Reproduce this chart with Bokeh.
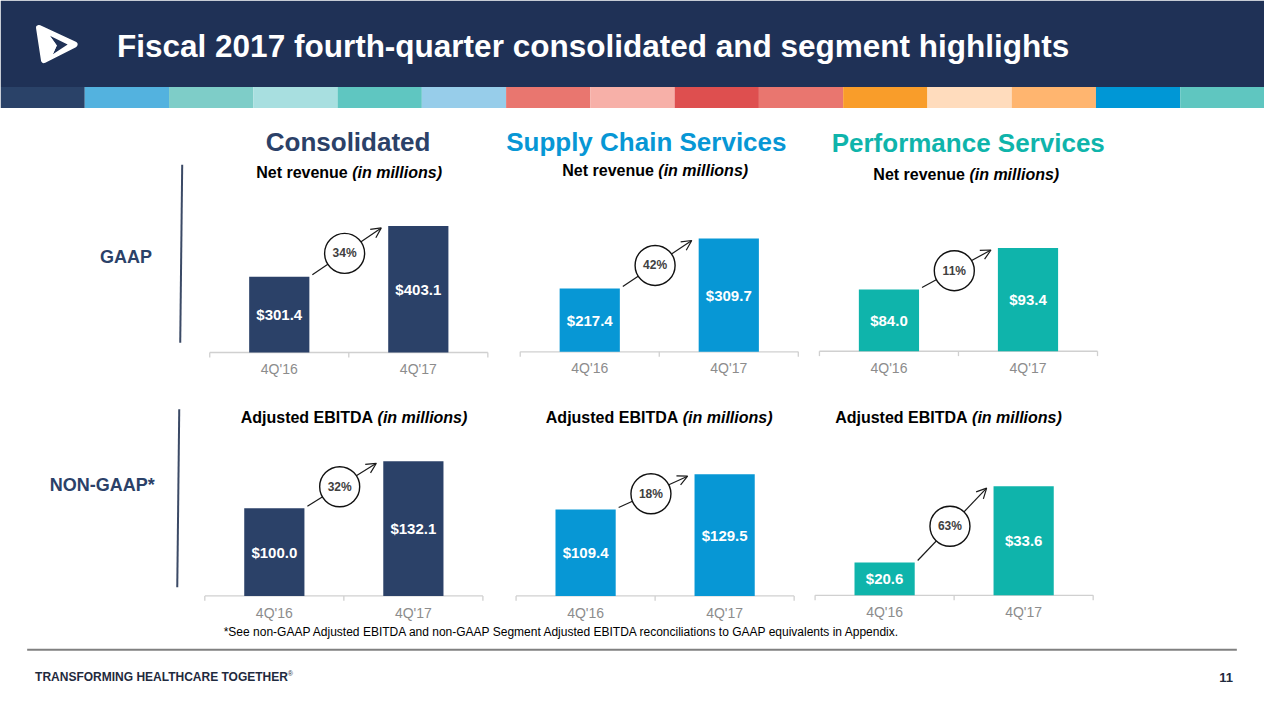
from bokeh.plotting import figure
from bokeh.models import Range1d, Arrow, OpenHead
from bokeh.embed import file_html
from bokeh.resources import INLINE
from bokeh.core.properties import value

# ---------------- data ----------------
quarters = ["4Q'16", "4Q'17"]
consolidated_revenue = [301.4, 403.1]
supply_chain_revenue = [217.4, 309.7]
performance_revenue = [84.0, 93.4]
consolidated_ebitda = [100.0, 132.1]
supply_chain_ebitda = [109.4, 129.5]
performance_ebitda = [20.6, 33.6]
revenue_growth = ["34%", "42%", "11%"]
ebitda_growth = ["32%", "18%", "63%"]
segment_titles = ["Consolidated", "Supply Chain Services", "Performance Services"]

# ---------------- styling ----------------
FONT = value("Liberation Sans")
NAVY = "#2b4168"
BLUE = "#0797d5"
TEAL = "#0fb4ab"
HEADER = "#1f3156"
stripe_colors = ["#2a4268", "#53b2df", "#7ecdc8", "#a8dfe0", "#5fc6c1", "#97cdea",
                 "#e9766f", "#f7b0a8", "#de4f4f", "#e9766f", "#f99d2a", "#ffdcbd",
                 "#ffb56f", "#0097d6", "#5fc6c0"]

SW, SH = 1280, 720          # slide coordinate space
W, H = 1264, 704            # figure size in pixels
p = figure(width=W, height=H, x_range=Range1d(0, SW), y_range=Range1d(SH, 0),
           output_backend="svg", toolbar_location=None, min_border=0,
           x_axis_location=None, y_axis_location=None, outline_line_color=None,
           background_fill_color="white", border_fill_color="white")
p.xgrid.visible = False
p.ygrid.visible = False

# Header band and stripe
p.quad(left=[0], right=[SW], top=[0], bottom=[88.5], fill_color=HEADER, line_color=None)
n = len(stripe_colors)
p.quad(left=[i * SW / n for i in range(n)], right=[(i + 1) * SW / n for i in range(n)],
       top=[88.5] * n, bottom=[110] * n, fill_color=stripe_colors, line_color=None)

# Logo (approximation of rounded triangle mark)
p.patch(x=[39, 75, 44], y=[28, 45, 61], fill_color="white", line_color="white",
        line_width=6, line_join="round")
p.patch(x=[50, 68, 53, 57], y=[36, 45, 55, 46], fill_color=HEADER, line_color=None)
p.patch(x=[44, 50, 57, 53, 47], y=[31, 36, 46, 55, 59], fill_color="white", line_color=None)

p.text(x=[118], y=[47], text=["Fiscal 2017 fourth-quarter consolidated and segment highlights"],
       text_font=FONT, text_font_style="bold", text_font_size="31.5px", text_color="white",
       text_baseline="middle", text_align="left")

# Section titles
p.text(x=[352, 654, 980], y=[145, 145, 146], text=segment_titles,
       text_color=[NAVY, BLUE, TEAL], text_font=FONT, text_font_style="bold",
       text_font_size="26px", text_align="center", text_baseline="middle")

AB = {' ': 278, '(': 333, ')': 333, 'A': 722, 'B': 722, 'D': 722, 'E': 667, 'I': 278,
      'T': 611, 'N': 722, 'a': 556, 'd': 611, 'e': 556, 'i': 278, 'j': 278, 'l': 278,
      'm': 889, 'n': 611, 'o': 611, 'r': 389, 's': 556, 't': 333, 'u': 611, 'v': 556}
PXS = SW / W  # slide units per screen pixel


def tw(s, size):
    return sum(AB.get(c, 556) for c in s) * size / 1000.0 * PXS


def subtitle(cx, cy, bold, ital, size=16):
    total = tw(bold + ital, size)
    left = cx - total / 2
    p.text(x=[left], y=[cy], text=[bold], text_font=FONT, text_font_style="bold",
           text_font_size=f"{size}px", text_color="black", text_baseline="middle")
    p.text(x=[left + tw(bold, size)], y=[cy], text=[ital], text_font=FONT,
           text_font_style="bold italic", text_font_size=f"{size}px", text_color="black",
           text_baseline="middle")


for cx, cy in [(353, 176), (663, 174), (978, 178)]:
    subtitle(cx, cy, "Net revenue ", "(in millions)")
for cx, cy in [(358, 426), (667, 426), (960, 426)]:
    subtitle(cx, cy, "Adjusted EBITDA ", "(in millions)")

# Row labels and separators
p.text(x=[127, 103], y=[262, 495], text=["GAAP", "NON-GAAP*"], text_color=NAVY,
       text_font=FONT, text_font_style="bold", text_font_size="18px",
       text_align="center", text_baseline="middle")
p.segment(x0=[184, 181], y0=[168, 418], x1=[182, 179], y1=[350, 600],
          line_color="#3b4a66", line_width=2)

# ---------------- charts ----------------
charts = [
    dict(vals=consolidated_revenue, growth=revenue_growth[0], color=NAVY, c0=282.3, vmin=150, vmax=450, top=206.6, bottom=360),
    dict(vals=supply_chain_revenue, growth=revenue_growth[1], color=BLUE, c0=596.7, vmin=100, vmax=350, top=221.2, bottom=359.3),
    dict(vals=performance_revenue, growth=revenue_growth[2], color=TEAL, c0=899.7, vmin=70, vmax=100, top=223.4, bottom=358.7),
    dict(vals=consolidated_ebitda, growth=ebitda_growth[0], color=NAVY, c0=277.3, vmin=40, vmax=140, top=459.5, bottom=609),
    dict(vals=supply_chain_ebitda, growth=ebitda_growth[1], color=BLUE, c0=592.5, vmin=60, vmax=140, top=465.7, bottom=609),
    dict(vals=performance_ebitda, growth=ebitda_growth[2], color=TEAL, c0=895.3, vmin=15, vmax=40, top=458.3, bottom=608.3),
]
SP = 140.8   # slide units between category centres
BW = 0.433   # bar width (fraction of category)

xr, yr = {}, {}
for i, ch in enumerate(charts):
    k = (ch["bottom"] - ch["top"]) / (ch["vmax"] - ch["vmin"])
    ch["k"] = k
    xs = -ch["c0"] / SP
    xr[f"x{i}"] = Range1d(xs, xs + SW / SP)
    ys = ch["vmin"] - (SH - ch["bottom"]) / k
    yr[f"y{i}"] = Range1d(ys, ys + SH / k)
p.extra_x_ranges = xr
p.extra_y_ranges = yr

for i, ch in enumerate(charts):
    rn = dict(x_range_name=f"x{i}", y_range_name=f"y{i}")
    vals, vmin, k = ch["vals"], ch["vmin"], ch["k"]
    # axis line and ticks
    p.segment(x0=[-0.5], x1=[1.5], y0=[vmin], y1=[vmin], line_color="#d0d0d0", line_width=1.3, **rn)
    p.segment(x0=[-0.5, 0.5, 1.5], x1=[-0.5, 0.5, 1.5], y0=[vmin] * 3, y1=[vmin - 5 / k] * 3,
              line_color="#d0d0d0", line_width=1.3, **rn)
    # bars
    p.vbar(x=[0, 1], top=vals, bottom=vmin, width=BW, fill_color=ch["color"], line_color=None, **rn)
    p.text(x=[0, 1], y=[(vmin + v) / 2 for v in vals], text=[f"${v:.1f}" for v in vals],
           text_font=FONT, text_font_style="bold", text_font_size="15px", text_color="white",
           text_align="center", text_baseline="middle", **rn)
    # category labels
    p.text(x=[0, 1], y=[vmin - 17 / k] * 2, text=quarters, text_font=FONT,
           text_font_size="14px", text_color="#8c8c8c", text_align="center",
           text_baseline="middle", **rn)
    # growth arrow (under the circle) and circle
    arr = Arrow(end=OpenHead(size=10, line_width=1.2, line_color="#1a1a1a"),
                x_start=BW / 2 + 3 / SP, y_start=vals[0] + 2 / k,
                x_end=1 - BW / 2 - 7 / SP, y_end=vals[1] - 2 / k,
                line_width=1.2, line_color="#1a1a1a", level="underlay", **rn)
    p.add_layout(arr)
    cy = (vals[0] + vals[1]) / 2 - 2 / k
    p.scatter(x=[0.47], y=[cy], size=40, marker="circle", fill_color="white",
              line_color="#111111", line_width=1.4, **rn)
    p.text(x=[0.47], y=[cy], text=[ch["growth"]], text_font=FONT, text_font_style="bold",
           text_font_size="12px", text_color="#404040", text_align="center",
           text_baseline="middle", **rn)

# Footnote, rule and footer
p.text(x=[226], y=[646], text=["*See non-GAAP Adjusted EBITDA and non-GAAP Segment Adjusted EBITDA reconciliations to GAAP equivalents in Appendix."],
       text_font=FONT, text_font_size="12px", text_color="black", text_baseline="middle")
p.segment(x0=[27], x1=[1252], y0=[664], y1=[664], line_color="#808080", line_width=2)
p.text(x=[35], y=[692], text=["TRANSFORMING HEALTHCARE TOGETHER"], text_font=FONT,
       text_font_style="bold", text_font_size="12px", text_color="#1f2a3e", text_baseline="middle")
p.text(x=[291], y=[688], text=["®"], text_font=FONT, text_font_size="7px",
       text_color="#1f2a3e", text_baseline="middle")
p.text(x=[1248], y=[692], text=["11"], text_font=FONT, text_font_style="bold",
       text_font_size="13px", text_color="#1f2a3e", text_baseline="middle", text_align="right")

open("out.html", "w").write(file_html(p, INLINE))
